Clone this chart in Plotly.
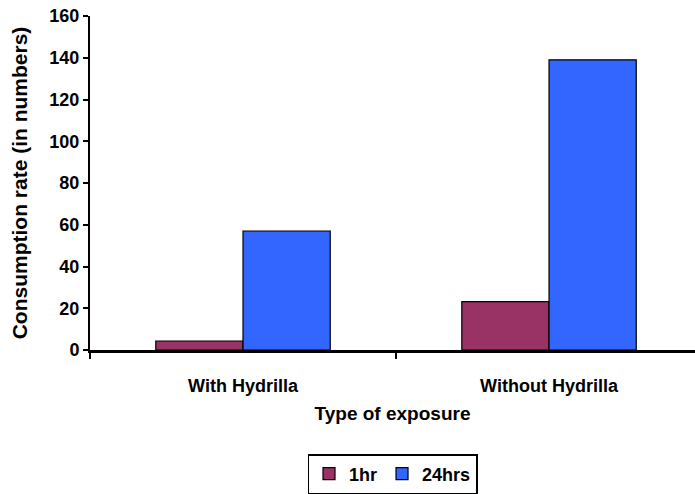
import plotly.graph_objects as go

categories = ["With Hydrilla", "Without Hydrilla"]
series_names = ["1hr", "24hrs"]
values_1hr = [4.3, 23.2]
values_24hrs = [57, 139]
y_ticks = [0, 20, 40, 60, 80, 100, 120, 140, 160]

colors = ["#993366", "#3366FF"]
font = "Liberation Sans, Arial, sans-serif"

fig = go.Figure()
for name, vals, c in zip(series_names, [values_1hr, values_24hrs], colors):
    fig.add_trace(go.Bar(x=categories, y=vals, name=name,
                         marker=dict(color=c, line=dict(color="black", width=1.2))))

fig.update_layout(
    width=695, height=494,
    margin=dict(l=90, r=0, t=16, b=144),
    paper_bgcolor="white", plot_bgcolor="white",
    barmode="group", bargap=0.43, bargroupgap=0,
    font=dict(family=font, color="black", size=14),
    showlegend=True,
    legend=dict(orientation="h", x=0.5, xanchor="center", xref="paper",
                yref="container", y=-0.01, yanchor="bottom",
                bordercolor="black", borderwidth=1.5,
                font=dict(family=font, size=18, color="black", weight="bold"),
                itemwidth=30, tracegroupgap=0),
)
fig.update_xaxes(
    range=[-0.5, 1.477], showline=True, linecolor="black", linewidth=3,
    ticks="outside", tickson="boundaries", ticklen=6, tickcolor="black", tickwidth=1.5,
    ticklabelstandoff=17, automargin=False,
    tickfont=dict(family=font, size=18, color="black", weight="bold"),
    title=dict(text="Type of exposure", font=dict(family=font, size=19, color="black", weight="bold"), standoff=13),
    showgrid=False,
)
fig.update_yaxes(
    range=[0, 160], tickvals=y_ticks, showline=True, linecolor="black", linewidth=2,
    ticks="outside", ticklen=5, tickcolor="black", tickwidth=1.5, automargin=False,
    tickfont=dict(family=font, size=18, color="black", weight="bold"),
    title=dict(text="Consumption rate (in numbers)", font=dict(family=font, size=21, color="black", weight="bold"), standoff=16),
    showgrid=False, zeroline=False,
)

fig.write_html("out.html")
